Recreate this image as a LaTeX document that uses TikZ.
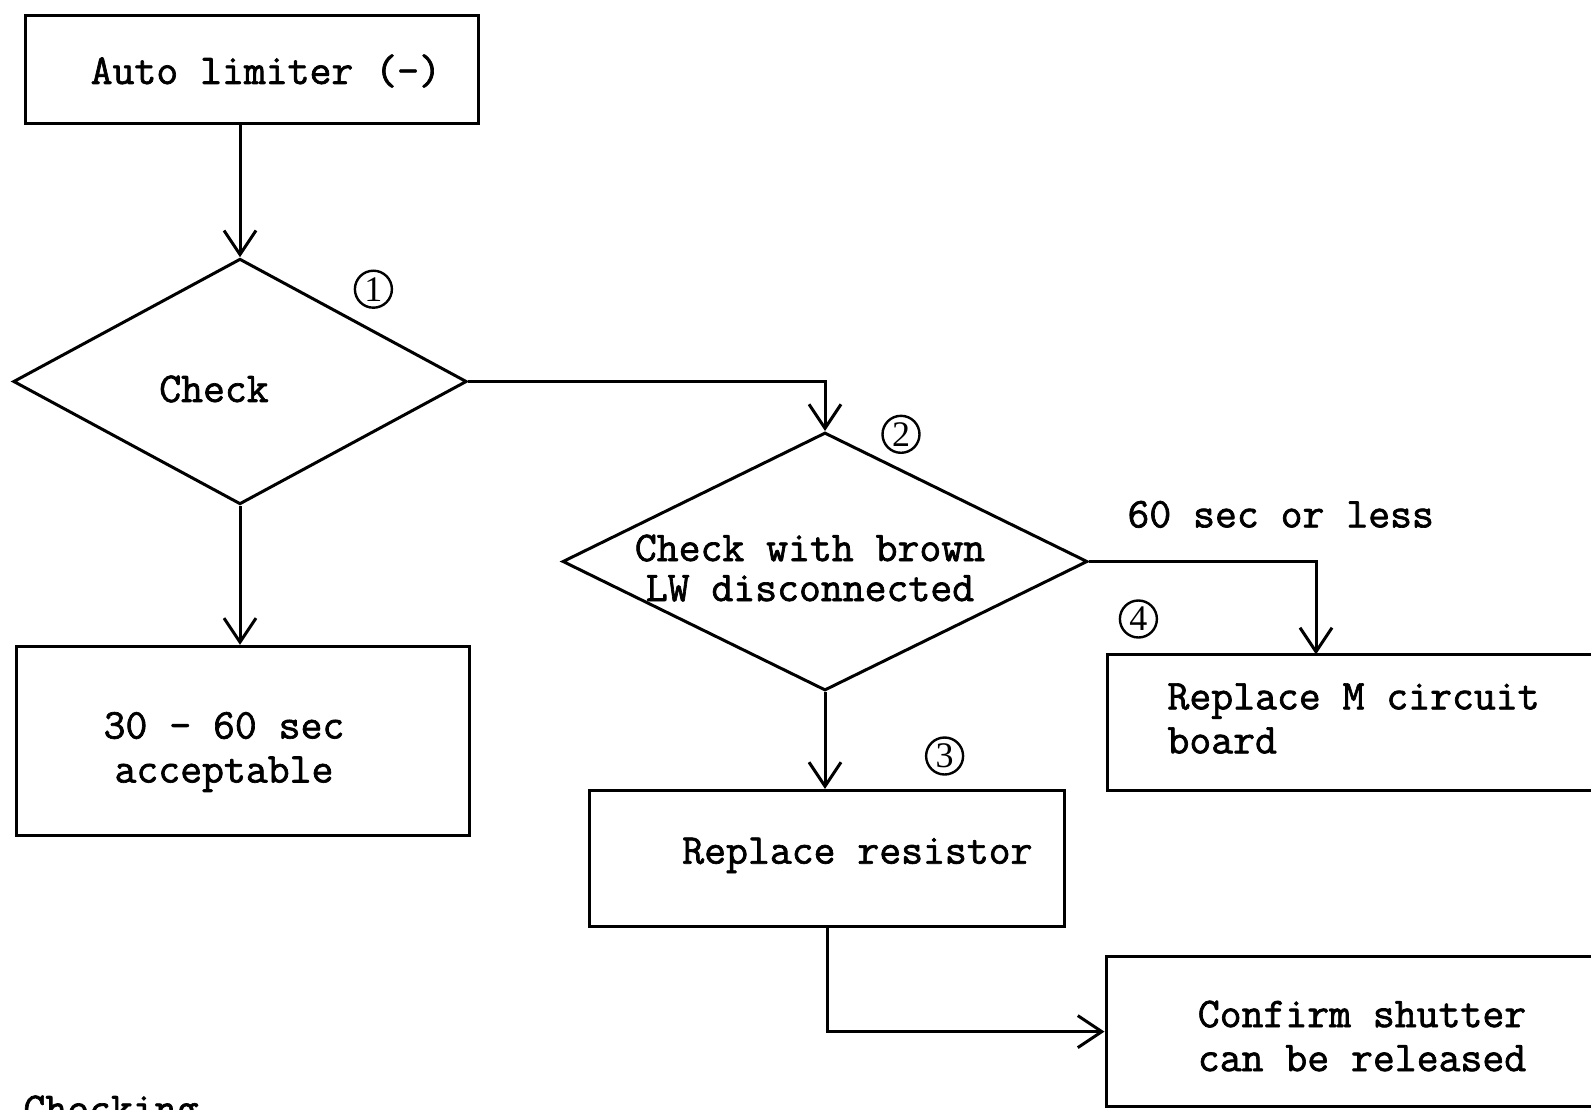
\documentclass[tikz,border=0pt]{standalone}
\usepackage{fontspec}
\setmainfont{Liberation Serif}
\newfontfamily\tw{Latin Modern Mono}[FakeBold=1.6]
\usetikzlibrary{shapes.geometric, arrows.meta}
\begin{document}
\begin{tikzpicture}[x=1pt,y=-1pt, line width=3pt,
  box/.style={draw, rectangle, inner sep=0pt, line width=3pt},
  dia/.style={draw, diamond, inner sep=0pt, line width=3pt},
  txt/.style={font=\tw\fontsize{42.5}{44}\selectfont, align=center, inner sep=0pt},
  num/.style={draw, circle, minimum size=37pt, inner sep=0pt, line width=2.4pt, font=\fontsize{36}{36}\selectfont},
  arr/.style={-{Straight Barb[length=24pt,width=32pt]}}
]
\fill[white] (0,0) rectangle (1591,1109);
\useasboundingbox (0,0) rectangle (1591,1109);

\node[box, minimum width=452.6pt, minimum height=108.6pt] (b1) at (251.7,69.5) {};
\node[txt] (t1) at (265.8,71) {Auto limiter (-)};
\node[dia, minimum width=453.5pt, minimum height=245.6pt] (d1) at (240,381.5) {};
\node[txt] (t2) at (214,389) {Check};
\node[num] (n1) at (373.4,289.2) {1};
\node[dia, minimum width=525pt, minimum height=258pt] (d2) at (825,561.5) {};
\node[txt, font=\tw\fontsize{42.5}{40}\selectfont] (t3) at (810,568) {Check with brown\\LW disconnected};
\node[num] (n2) at (901,434.3) {2};
\node[txt, anchor=west] (t4) at (1126,514.4) {60 sec or less};
\node[num] (n4) at (1138.4,619) {4};
\node[box, minimum width=490pt, minimum height=136pt] (b4) at (1352,722.4) {};
\node[txt, anchor=west, align=left] (t5) at (1166,718.5) {Replace M circuit\\board};
\node[box, minimum width=453.6pt, minimum height=188.7pt] (b2) at (243,740.7) {};
\node[txt] (t6) at (224,752) {30 - 60 sec\\acceptable};
\node[num] (n3) at (944.6,756) {3};
\node[box, minimum width=475pt, minimum height=136pt] (b3) at (827,858.4) {};
\node[txt] (t7) at (857.4,855.4) {Replace resistor};
\node[box, minimum width=490pt, minimum height=150pt] (b5) at (1351,1031.6) {};
\node[txt] (t8) at (1362,1036) {Confirm shutter\\can be released};
\node[txt, anchor=base west] (t9) at (22,1122) {Checking};

\coordinate (k4) at (1316,654.4);
\draw[arr] (d1.north |- b1.south) -- (d1.north);
\draw[arr] (d1.east) -| (d2.north);
\draw[arr] (d2.east) -| (k4);
\draw[arr] (d1.south) -- (d1.south |- b2.north);
\draw[arr] (d2.south) -- (d2.south |- b3.north);
\draw[arr] (b3.south) -- (b3.south |- b5.west) -- (b5.west);
\end{tikzpicture}
\end{document}
